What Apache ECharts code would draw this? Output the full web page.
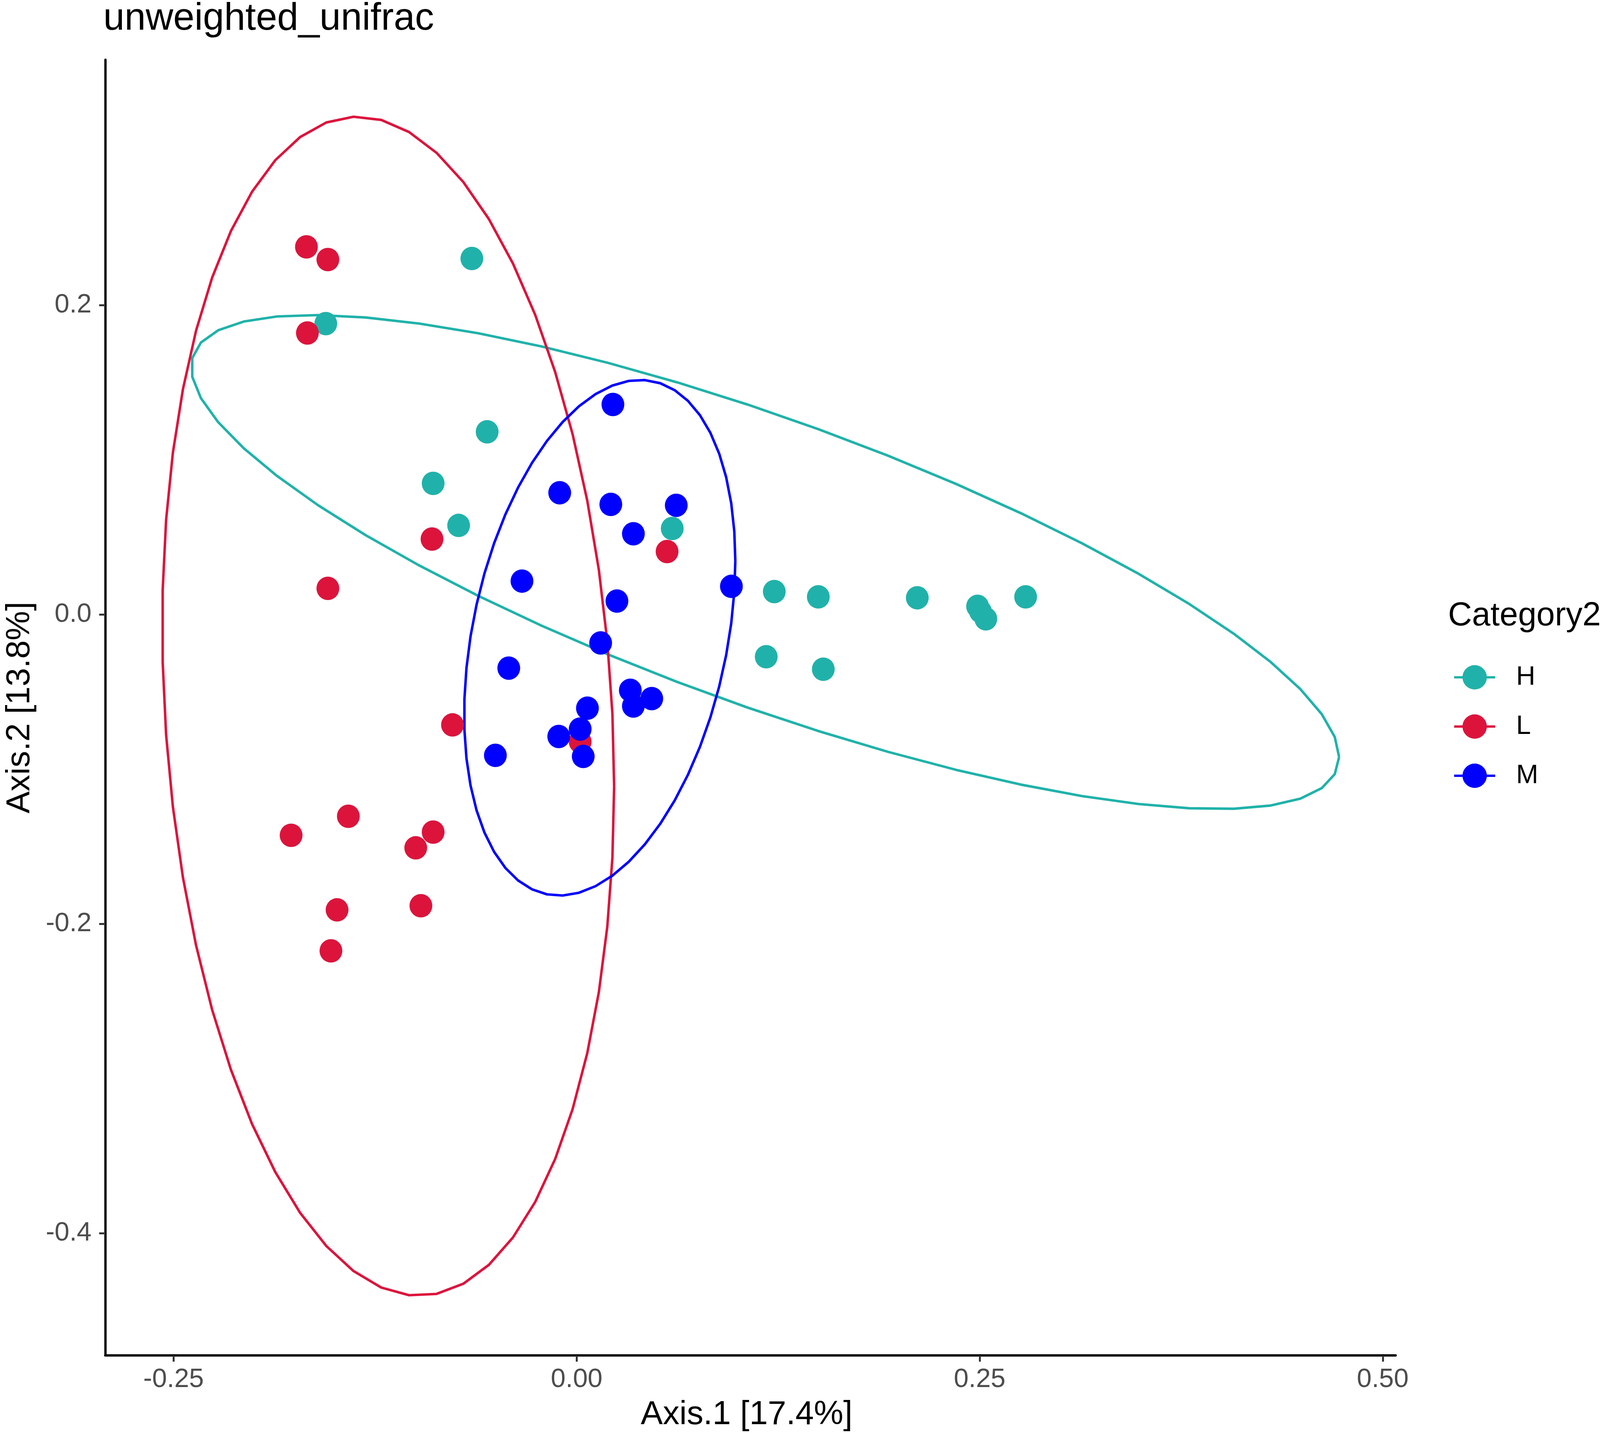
<!DOCTYPE html>
<html>
<head>
<meta charset="utf-8">
<script src="https://cdn.jsdelivr.net/npm/echarts@6/dist/echarts.min.js"></script>
<style>
html,body{margin:0;padding:0;background:#fff;overflow:hidden;}
#chart{width:100vw;height:100vh;}
</style>
</head>
<body>
<div id="chart"></div>
<script>
// ---- data ----
var groups = ['H', 'L', 'M'];
var colors = ['#20B2AA', '#DC143C', '#0000FF'];

// last H point: assumed hidden inside the overlapping pair near (0.25, 0.00)
var hX = [-0.0650, -0.1556, -0.0555, -0.0890, -0.0732, 0.0593, 0.1226, 0.1499, 0.2113, 0.2487, 0.2538, 0.2785, 0.1176, 0.1530, 0.2505];
var hY = [0.2303, 0.1882, 0.1182, 0.0849, 0.0577, 0.0557, 0.0149, 0.0115, 0.0109, 0.0054, -0.0027, 0.0115, -0.0272, -0.0353, 0.0020];

var lX = [-0.1676, -0.1543, -0.1670, -0.0897, 0.0561, -0.1543, -0.0770, 0.0022, -0.1416, -0.1771, -0.0890, -0.0998, -0.1486, -0.0966, -0.1524];
var lY = [0.2378, 0.2296, 0.1821, 0.0489, 0.0408, 0.0170, -0.0713, -0.0822, -0.1304, -0.1427, -0.1406, -0.1508, -0.1909, -0.1882, -0.2174];

var mX = [0.0225, -0.0105, 0.0212, 0.0618, 0.0352, -0.0339, 0.0960, 0.0250, 0.0149, -0.0421, 0.0333, 0.0466, 0.0352, 0.0067, 0.0022, -0.0111, -0.0504, 0.0041];
var mY = [0.1359, 0.0788, 0.0713, 0.0707, 0.0523, 0.0217, 0.0183, 0.0088, -0.0183, -0.0346, -0.0489, -0.0543, -0.0591, -0.0605, -0.0740, -0.0788, -0.0910, -0.0917];

var xTicks = [-0.25, 0, 0.25, 0.5];
var yTicks = [-0.4, -0.2, 0, 0.2];

var titleText = 'unweighted_unifrac';
var xName = 'Axis.1 [17.4%]';
var yName = 'Axis.2 [13.8%]';
var legendTitle = 'Category2';

// ---- 95% t-ellipse as in ggplot2::stat_ellipse (MASS::cov.trob) ----
function covTrob(xs, ys) {
  var n = xs.length, p = 2, nu = 5, tol = 0.01, maxit = 25;
  var w = [], i;
  for (i = 0; i < n; i++) w.push(1);
  var lx = 0, ly = 0;
  for (i = 0; i < n; i++) { lx += xs[i]; ly += ys[i]; }
  lx /= n; ly /= n;
  var X = [];
  for (var iter = 0; iter < maxit; iter++) {
    var w0 = w.slice();
    X = [];
    var sw = 0;
    for (i = 0; i < n; i++) { X.push([xs[i] - lx, ys[i] - ly]); sw += w[i]; }
    var s11 = 0, s12 = 0, s22 = 0;
    for (i = 0; i < n; i++) {
      var f = w[i] / sw;
      s11 += f * X[i][0] * X[i][0];
      s12 += f * X[i][0] * X[i][1];
      s22 += f * X[i][1] * X[i][1];
    }
    var det = s11 * s22 - s12 * s12;
    var i11 = s22 / det, i12 = -s12 / det, i22 = s11 / det;
    var nw = [];
    for (i = 0; i < n; i++) {
      var a = X[i][0], b = X[i][1];
      var Q = a * a * i11 + 2 * a * b * i12 + b * b * i22;
      nw.push((nu + p) / (nu + Q));
    }
    w = nw;
    var sw2 = 0, nx = 0, ny = 0;
    for (i = 0; i < n; i++) { sw2 += w[i]; nx += w[i] * xs[i]; ny += w[i] * ys[i]; }
    lx = nx / sw2; ly = ny / sw2;
    var done = true;
    for (i = 0; i < n; i++) if (Math.abs(w[i] - w0[i]) >= tol) done = false;
    if (done) break;
  }
  var c11 = 0, c12 = 0, c22 = 0;
  for (i = 0; i < n; i++) {
    c11 += w[i] * X[i][0] * X[i][0];
    c12 += w[i] * X[i][0] * X[i][1];
    c22 += w[i] * X[i][1] * X[i][1];
  }
  return { center: [lx, ly], cov: [c11 / n, c12 / n, c22 / n] };
}

function ellipsePoints(xs, ys) {
  var level = 0.95, segments = 51;
  var v = covTrob(xs, ys);
  var dfd = xs.length - 1;
  var qf = (dfd / 2) * (Math.pow(1 - level, -2 / dfd) - 1); // F(2, dfd) quantile
  var radius = Math.sqrt(2 * qf);
  var a = Math.sqrt(v.cov[0]);
  var b = v.cov[1] / a;
  var c = Math.sqrt(v.cov[2] - b * b);
  var pts = [];
  for (var k = 0; k <= segments; k++) {
    var t = k * 2 * Math.PI / segments;
    var ct = Math.cos(t), st = Math.sin(t);
    pts.push([v.center[0] + radius * ct * a, v.center[1] + radius * (ct * b + st * c)]);
  }
  return pts;
}

function zip(xs, ys) { return xs.map(function (x, i) { return [x, ys[i]]; }); }

var groupX = [hX, lX, mX];
var groupY = [hY, lY, mY];

// layout was measured on a 4212 x 3684 canvas; scale to the actual viewport
var SX = window.innerWidth / 4212, SY = window.innerHeight / 3684, SF = Math.sqrt(SX * SY);
function PX(v) { return v * SX; }
function PY(v) { return v * SY; }
function PF(v) { return v * SF; }

var FONT = 'Liberation Sans';
var series = [];
groups.forEach(function (g, gi) {
  series.push({
    name: g, type: 'line', data: ellipsePoints(groupX[gi], groupY[gi]),
    showSymbol: false, symbol: 'circle', smooth: false, z: 2,
    lineStyle: { color: colors[gi], width: PF(6.5) }, itemStyle: { color: colors[gi] },
    silent: true
  });
});
groups.forEach(function (g, gi) {
  series.push({
    name: g, type: 'scatter', data: zip(groupX[gi], groupY[gi]),
    symbol: 'circle', symbolSize: [PX(60), PY(60)], z: 3,
    itemStyle: { color: colors[gi], opacity: 1 }
  });
});

var chart = echarts.init(document.getElementById('chart'), null, { renderer: 'canvas' });
chart.setOption({
  animation: false,
  backgroundColor: '#ffffff',
  title: [
    { text: titleText, left: PX(272), top: PY(0), padding: 0,
      textStyle: { fontFamily: FONT, fontSize: PF(99), fontWeight: 'normal', color: '#000' } },
    { text: legendTitle, left: PX(3812), top: PY(1535), padding: 0,
      textStyle: { fontFamily: FONT, fontSize: PF(86), fontWeight: 'normal', color: '#000' } }
  ],
  legend: {
    data: groups, orient: 'vertical', left: PX(3825), top: PY(1700),
    itemWidth: PX(108), itemHeight: PY(78), itemGap: PY(58), padding: 0,
    lineStyle: { width: PF(6) },
    textStyle: { fontFamily: FONT, fontSize: PF(69), color: '#000', padding: [0, 0, 0, PX(50)] }
  },
  grid: { left: PX(277), right: PX(538), top: PY(153), bottom: PY(214), containLabel: false },
  xAxis: {
    type: 'value', min: -0.2924, max: 0.508,
    name: xName, nameLocation: 'middle', nameGap: PY(110),
    nameTextStyle: { fontFamily: FONT, fontSize: PF(86), color: '#000', padding: [0, PX(20), 0, 0] },
    axisLine: { onZero: false, lineStyle: { color: '#000', width: PF(6) } },
    axisTick: { show: true, length: PY(16), customValues: xTicks, lineStyle: { color: '#333', width: PF(5) } },
    axisLabel: { customValues: xTicks, margin: PY(28), fontFamily: FONT, fontSize: PF(69), color: '#4D4D4D',
      formatter: function (v) { return v.toFixed(2); } },
    splitLine: { show: false }
  },
  yAxis: {
    type: 'value', min: -0.479, max: 0.3588,
    name: yName, nameLocation: 'middle', nameGap: PX(180),
    nameTextStyle: { fontFamily: FONT, fontSize: PF(86), color: '#000' },
    axisLine: { onZero: false, lineStyle: { color: '#000', width: PF(6) } },
    axisTick: { show: true, length: PX(16), customValues: yTicks, lineStyle: { color: '#333', width: PF(5) } },
    axisLabel: { customValues: yTicks, margin: PX(36), fontFamily: FONT, fontSize: PF(69), color: '#4D4D4D',
      formatter: function (v) { return v.toFixed(1); } },
    splitLine: { show: false }
  },
  series: series
});
</script>
</body>
</html>
